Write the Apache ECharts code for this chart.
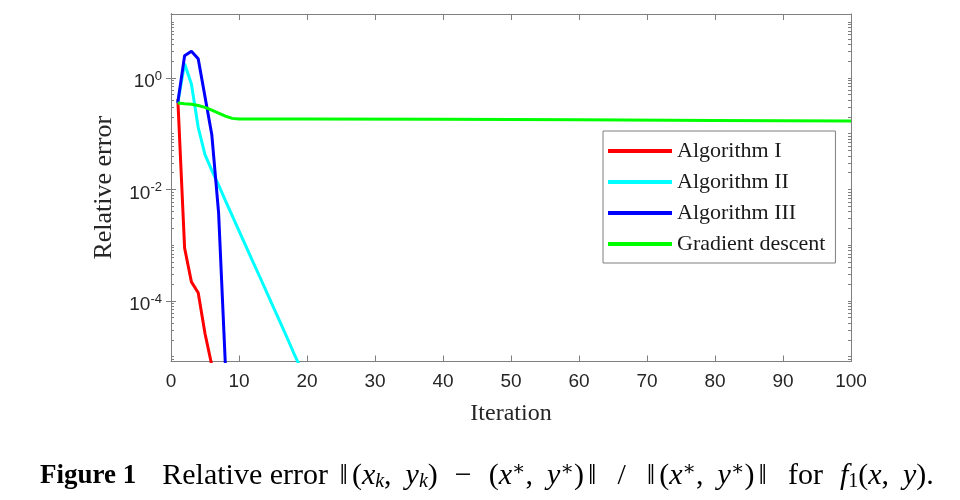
<!DOCTYPE html>
<html>
<head>
<meta charset="utf-8">
<script src="https://cdn.jsdelivr.net/npm/echarts@6/dist/echarts.min.js"></script>
<style>
  html, body { margin: 0; padding: 0; background: #fff; }
  #chart { width: 960px; height: 500px; }
</style>
</head>
<body>
<div id="chart"></div>
<script>
// relative error per iteration
const iterAlgI = [1, 2, 3, 4, 5, 6];
const errAlgI = [0.42, 8.9e-4, 2.2e-4, 1.4e-4, 2.6e-5, 7e-6];

const iterAlgII = [1, 2, 3, 4, 5, 6, 7, 8, 9, 10, 11, 12, 13, 14, 15, 16, 17, 18, 19];
const errAlgII = [0.36, 1.8, 0.78, 0.13, 0.042, 0.022, 0.012, 6.3e-3, 3.4e-3, 1.8e-3,
  9.7e-4, 5.2e-4, 2.8e-4, 1.5e-4, 8.0e-5, 4.3e-5, 2.3e-5, 1.2e-5, 6.5e-6];

const iterAlgIII = [1, 2, 3, 4, 5, 6, 7, 8];
const errAlgIII = [0.36, 2.5, 3.0, 2.2, 0.46, 0.096, 3.8e-3, 7e-6];

const iterGD = [1, 2, 3, 4, 5, 6, 7, 8, 9, 10, 20, 40, 60, 80, 100];
const errGD = [0.355, 0.345, 0.336, 0.32, 0.296, 0.264, 0.233, 0.206, 0.188, 0.184,
  0.184, 0.181, 0.177, 0.172, 0.168];

const seriesNames = ['Algorithm I', 'Algorithm II', 'Algorithm III', 'Gradient descent'];
const seriesColors = ['#ff0000', '#00ffff', '#0000ff', '#00ff00'];

// y ticks: labelled decades and the usual 2..9 minor marks
const yMajorTicks = [1e-4, 1e-2, 1];
const yMantissas = [1, 2, 3, 4, 5, 6, 7, 8, 9];
const yDecades = [-6, -5, -4, -3, -2, -1, 0, 1];
const yMinorTicks = [];
yDecades.forEach(function (d) {
  yMantissas.forEach(function (m) {
    yMinorTicks.push(m * Math.pow(10, d));
  });
});

const frameColor = '#7f7f7f';
const labelColor = '#262626';
const serif = "'Liberation Serif', 'Times New Roman', 'DejaVu Serif', serif";
const sans = "'Liberation Sans', Arial, sans-serif";

function pairs(xs, ys) {
  return xs.map(function (x, i) { return [x, ys[i]]; });
}

function yAxis(position, ticks, len, withLabels) {
  return {
    type: 'log',
    logBase: 10,
    min: 8.2e-6,
    max: 14,
    position: position,
    axisLine: { show: true, lineStyle: { color: frameColor, width: 1 } },
    axisTick: {
      show: true, inside: true, length: len, customValues: ticks,
      lineStyle: { color: frameColor, width: 1 }
    },
    axisLabel: withLabels ? {
      show: true,
      customValues: yMajorTicks,
      margin: 9,
      padding: [8, 0, 0, 0],
      formatter: function (v) {
        return '{b|10}{s|' + Math.round(Math.log10(v)) + '}';
      },
      rich: {
        b: { fontFamily: sans, fontSize: 19, color: labelColor, lineHeight: 24 },
        s: { fontFamily: sans, fontSize: 13, color: labelColor, lineHeight: 13, verticalAlign: 'top' }
      }
    } : { show: false },
    splitLine: { show: false },
    name: withLabels ? 'Relative error' : '',
    nameLocation: 'middle',
    nameGap: 54,
    nameTextStyle: { fontFamily: serif, fontSize: 26, color: labelColor }
  };
}

function xAxis(position, withLabels) {
  return {
    type: 'value',
    min: 0,
    max: 100,
    interval: 10,
    position: position,
    axisLine: { show: true, lineStyle: { color: frameColor, width: 1 } },
    axisTick: { show: true, inside: true, length: 6, lineStyle: { color: frameColor, width: 1 } },
    axisLabel: withLabels ? {
      show: true, margin: 11, fontFamily: sans, fontSize: 19, color: labelColor
    } : { show: false },
    splitLine: { show: false },
    name: withLabels ? 'Iteration' : '',
    nameLocation: 'middle',
    nameGap: 40,
    nameTextStyle: { fontFamily: serif, fontSize: 24, color: labelColor }
  };
}

const caption =
  '{fig|Figure 1}{n|Relative error }{nb|‖}{n|(}{i|x}{sub|k}{c|,}{i|y}{sub|k}{n|)}{op|−}' +
  '{n|(}{i|x}{sup|∗}{c|,}{i|y}{sup|∗}{n|)}{nb|‖}{op|/}{nb|‖}{n|(}{i|x}{sup|∗}{c|,}{i|y}{sup|∗}{n|)}{nb|‖}' +
  '{op|for}{i|f}{subr|1}{n|(}{i|x}{c|,}{i|y}{n|).}';

const capFont = { fontFamily: serif, fontWeight: 'normal', color: '#000', fontSize: 30, lineHeight: 32 };
const capSmall = { fontFamily: serif, fontWeight: 'normal', color: '#000', fontSize: 20, lineHeight: 20 };

const chart = echarts.init(document.getElementById('chart'));

chart.setOption({
  animation: false,
  backgroundColor: '#fff',
  title: {
    left: 40,
    top: 460,
    padding: 0,
    text: caption,
    textStyle: {
      fontWeight: 'normal',
      rich: {
        fig: Object.assign({}, capFont, { fontWeight: 'bold', fontSize: 27, padding: [0, 26, 0, 0] }),
        n: Object.assign({}, capFont),
        nb: Object.assign({}, capFont, { padding: [0, 4, 0, 4] }),
        c: Object.assign({}, capFont, { padding: [0, 14, 0, 0] }),
        op: Object.assign({}, capFont, { padding: [0, 17, 0, 17] }),
        i: Object.assign({}, capFont, { fontStyle: 'italic' }),
        sub: Object.assign({}, capSmall, { fontStyle: 'italic', verticalAlign: 'bottom' }),
        subr: Object.assign({}, capSmall, { verticalAlign: 'bottom' }),
        sup: Object.assign({}, capSmall, { verticalAlign: 'top' })
      }
    }
  },
  legend: {
    orient: 'vertical',
    left: 603,
    top: 131,
    icon: 'rect',
    itemWidth: 64,
    itemHeight: 4,
    itemGap: 9,
    padding: [9, 10, 8, 5],
    borderColor: frameColor,
    borderWidth: 1,
    backgroundColor: '#fff',
    data: seriesNames,
    textStyle: { fontFamily: serif, fontSize: 22, lineHeight: 22, color: '#1a1a1a' }
  },
  grid: { left: 171, right: 109, top: 14, bottom: 138.5 },
  xAxis: [xAxis('bottom', true), xAxis('top', false)],
  yAxis: [
    yAxis('left', yMajorTicks, 5, true),
    yAxis('right', yMajorTicks, 5, false),
    yAxis('left', yMinorTicks, 3, false),
    yAxis('right', yMinorTicks, 3, false)
  ],
  series: [
    [iterAlgI, errAlgI],
    [iterAlgII, errAlgII],
    [iterAlgIII, errAlgIII],
    [iterGD, errGD]
  ].map(function (d, i) {
    return {
      name: seriesNames[i],
      type: 'line',
      xAxisIndex: 0,
      yAxisIndex: 0,
      data: pairs(d[0], d[1]),
      showSymbol: false,
      symbol: 'none',
      color: seriesColors[i],
      lineStyle: { width: 3, color: seriesColors[i] },
      clip: true
    };
  })
});
</script>
</body>
</html>
